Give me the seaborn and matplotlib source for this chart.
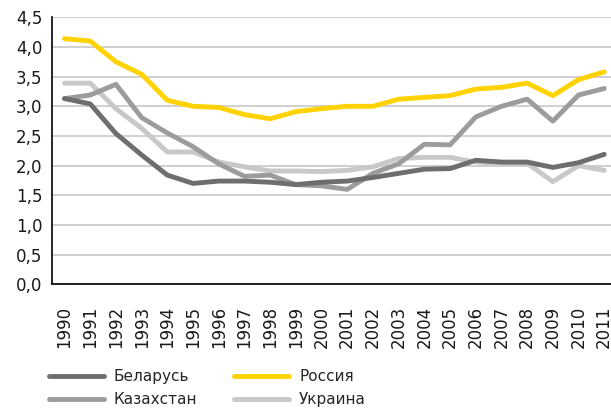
import matplotlib
matplotlib.use("Agg")
import matplotlib.pyplot as plt
import matplotlib.ticker as mticker
import seaborn as sns
import pandas as pd

years = list(range(1990, 2012))
belarus = [3.13, 3.04, 2.54, 2.18, 1.84, 1.70, 1.74, 1.74, 1.72, 1.68, 1.72,
           1.74, 1.80, 1.87, 1.94, 1.95, 2.09, 2.06, 2.06, 1.97, 2.05, 2.19]
kazakhstan = [3.13, 3.19, 3.37, 2.81, 2.55, 2.32, 2.03, 1.82, 1.84, 1.68, 1.66,
              1.60, 1.87, 2.03, 2.36, 2.35, 2.82, 3.00, 3.12, 2.75, 3.19, 3.30]
russia = [4.14, 4.10, 3.75, 3.54, 3.10, 3.00, 2.98, 2.86, 2.79, 2.91, 2.96,
          3.00, 3.00, 3.12, 3.15, 3.18, 3.29, 3.32, 3.39, 3.18, 3.45, 3.58]
ukraine = [3.39, 3.39, 2.96, 2.63, 2.23, 2.23, 2.06, 1.98, 1.91, 1.91, 1.90,
           1.92, 1.98, 2.12, 2.14, 2.14, 2.06, 2.04, 2.04, 1.73, 2.00, 1.92]

countries = ["Беларусь", "Казахстан", "Россия", "Украина"]
series = [belarus, kazakhstan, russia, ukraine]
colors = ["#6e6e6e", "#9c9c9c", "#ffd200", "#c8c8c8"]
zorders = [4, 3, 5, 2]

rows = []
for c, vals in zip(countries, series):
    for y, v in zip(years, vals):
        rows.append({"year": y, "value": v, "country": c})
df = pd.DataFrame(rows)

sns.set_style("white")
plt.rcParams["font.family"] = ["DejaVu Sans"]

fig = plt.figure(figsize=(6.11, 4.09), dpi=100)
ax = fig.add_axes([51.7 / 611, (409 - 284.3) / 409, 565.4 / 611, 267.0 / 409])

sns.lineplot(data=df, x="year", y="value", hue="country", hue_order=countries,
             palette=colors, linewidth=3.5, ax=ax, legend=False,
             solid_capstyle="round")
for ln, z in zip(ax.lines, zorders):
    ln.set_zorder(z)

ax.set_xlim(1989.5, 2011.5)
ax.set_ylim(0, 4.5)
ax.set_yticks([i * 0.5 for i in range(10)])
ax.yaxis.set_major_formatter(mticker.FuncFormatter(lambda v, p: f"{v:.1f}".replace(".", ",")))
ax.set_xticks(years)
ax.set_xticklabels([str(y) for y in years], rotation=90)
ax.set_xticks([y + 0.5 for y in years[:-1]], minor=True)
ax.tick_params(axis="x", which="major", length=0, pad=15.5, labelsize=12)
ax.tick_params(axis="x", which="minor", length=6, width=1, direction="in", color="black")
ax.tick_params(axis="y", length=0, pad=6.5, labelsize=12)
for lab in ax.get_xticklabels() + ax.get_yticklabels():
    lab.set_color("#1a1a1a")

ax.grid(axis="y", color="#c8c8c8", linewidth=1.2)
ax.grid(axis="x", visible=False)
ax.set_axisbelow(True)
ax.set_xlabel("")
ax.set_ylabel("")
for s in ["top", "right"]:
    ax.spines[s].set_visible(False)
for s in ["left", "bottom"]:
    ax.spines[s].set_color("black")
    ax.spines[s].set_linewidth(1.2)

handles = [plt.Line2D([], [], color=c, linewidth=3.5, solid_capstyle="round") for c in colors]
fig.legend(handles, countries, loc="upper left", bbox_to_anchor=(49 / 611, 0.098),
           ncol=2, frameon=False, fontsize=11, handlelength=3.6, handletextpad=0.65,
           columnspacing=2.4, labelspacing=0.52, borderpad=0, borderaxespad=0)

fig.savefig("out.png", dpi=100)
